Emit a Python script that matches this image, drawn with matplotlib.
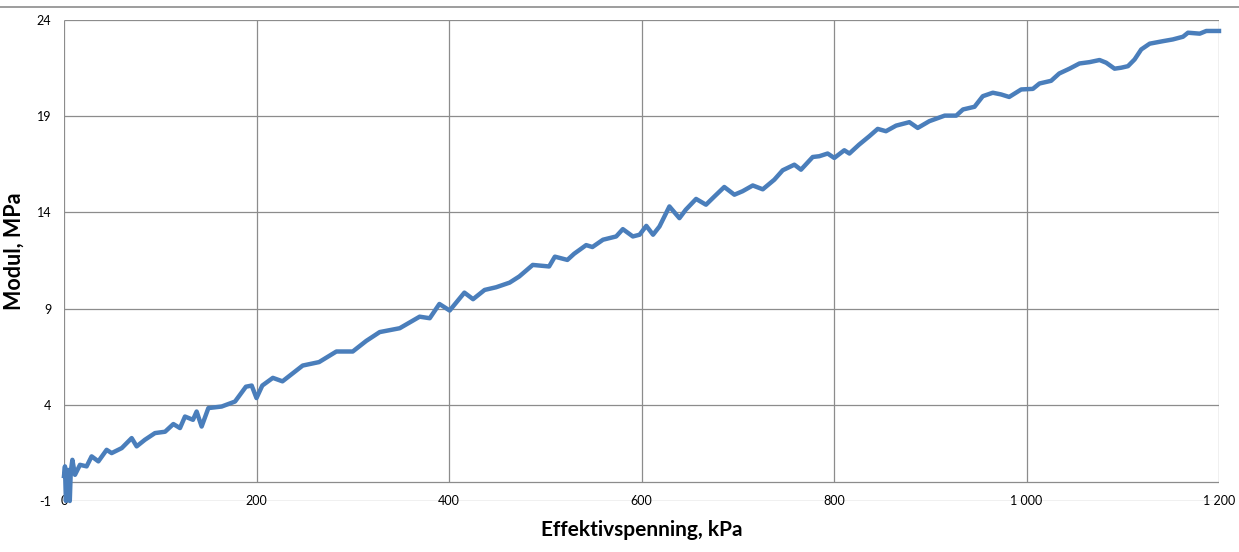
import matplotlib.pyplot as plt
from matplotlib.lines import Line2D

# data (kPa, MPa)
spenning = [0, 1, 2, 3.8, 6, 7, 8.7, 11.4, 16.6, 23.5, 28.7, 35.7, 44.3, 49.5,
            60, 70.3, 75.5, 84, 94.5, 105, 113.6, 120.5, 125.7, 134, 137.8, 143,
            150, 163.8, 177.7, 189, 195, 200, 206, 217, 227, 248, 265, 283, 300,
            314, 328, 348.8, 369.5, 380, 390, 400.7, 416, 425, 437, 449, 463,
            473, 487, 504, 510, 523, 530, 542.5, 549, 560, 573.7, 580.6, 591,
            598, 605, 612, 618.7, 629, 639.4, 646, 656.7, 667, 675.8, 686,
            696.5, 705, 715.6, 726, 738, 746.7, 758.8, 765.7, 777.9, 784.7,
            793.4, 800.3, 810.7, 816, 826, 836.7, 845.4, 854, 864.5, 878.3, 887,
            899, 915, 927, 934, 946, 954.6, 965, 973.7, 982, 994.5, 1006.6,
            1013.5, 1025.6, 1034, 1044.7, 1055, 1065.5, 1075.9, 1082.8, 1091.5,
            1098.4, 1105.4, 1112.3, 1119.2, 1128, 1141.8, 1152, 1162.6, 1167.8,
            1180, 1186.8, 1200]
modul = [0.3, 0.8, -1.0, 0.62, -1.0, 0.5, 1.14, 0.36, 0.88, 0.8, 1.32, 1.06,
         1.66, 1.49, 1.75, 2.27, 1.84, 2.18, 2.53, 2.6, 3.0, 2.79, 3.39, 3.22,
         3.65, 2.87, 3.83, 3.91, 4.17, 4.94, 5.0, 4.35, 5.0, 5.4, 5.22, 6.04,
         6.22, 6.77, 6.77, 7.32, 7.78, 7.98, 8.58, 8.5, 9.24, 8.9, 9.83, 9.49,
         9.97, 10.11, 10.35, 10.67, 11.27, 11.19, 11.7, 11.53, 11.85, 12.3,
         12.2, 12.58, 12.75, 13.13, 12.75, 12.84, 13.3, 12.84, 13.27, 14.31,
         13.7, 14.14, 14.7, 14.4, 14.83, 15.32, 14.92, 15.1, 15.4, 15.2, 15.7,
         16.19, 16.48, 16.22, 16.88, 16.92, 17.06, 16.83, 17.23, 17.06, 17.52,
         17.96, 18.34, 18.22, 18.51, 18.69, 18.39, 18.74, 19.03, 19.03, 19.35,
         19.49, 20.04, 20.22, 20.13, 20.0, 20.39, 20.42, 20.7, 20.84, 21.22,
         21.47, 21.74, 21.81, 21.92, 21.78, 21.47, 21.52, 21.6, 21.95, 22.47,
         22.77, 22.9, 22.99, 23.13, 23.34, 23.29, 23.43, 23.43]

x_ticks = [0, 200, 400, 600, 800, 1000, 1200]
x_tick_labels = ["0", "200", "400", "600", "800", "1 000", "1 200"]
y_ticks = [-1, 4, 9, 14, 19, 24]

plt.rcParams['font.family'] = ['Lato', 'DejaVu Sans']
plt.rcParams['axes.unicode_minus'] = False
grid_color = "#8c8c8c"

fig = plt.figure(figsize=(12.39, 5.52), dpi=100)
ax = fig.add_axes([64/1239, 1 - 501/552, 1155/1239, 481/552])

# gridlines the Excel way: vertical ones stop at the axis (y=0)
ax.hlines(y_ticks, 0, 1200, color=grid_color, lw=0.9, zorder=1)
ax.vlines(x_ticks[1:], 0, 24, color=grid_color, lw=0.9, zorder=1)
ax.hlines(0, 0, 1200, color=grid_color, lw=0.9, zorder=1)
ax.vlines(0, -1, 24, color=grid_color, lw=0.9, zorder=1)

ax.plot(spenning, modul, color="#4a7ebb", lw=3.2, zorder=3, clip_on=False)

ax.set_xlim(0, 1200)
ax.set_ylim(-1, 24)
for s in ax.spines.values():
    s.set_visible(False)
ax.set_xticks(x_ticks, x_tick_labels)
ax.set_yticks(y_ticks)
ax.tick_params(axis="both", length=0, labelsize=9, colors="black")
ax.tick_params(axis="x", pad=-4.5)
ax.tick_params(axis="y", pad=9)

ax.set_xlabel("Effektivspenning, kPa", fontsize=15, fontweight="bold")
ax.set_ylabel("Modul, MPa", fontsize=15.5, fontweight="bold")
ax.xaxis.set_label_coords(0.5, -0.040)
ax.yaxis.set_label_coords(-0.034, 0.52)

# thin line across the top of the picture
fig.add_artist(Line2D([0, 1], [1 - 7/552, 1 - 7/552], transform=fig.transFigure,
                      color=grid_color, lw=1.2))

plt.savefig("out.png", dpi=100)
